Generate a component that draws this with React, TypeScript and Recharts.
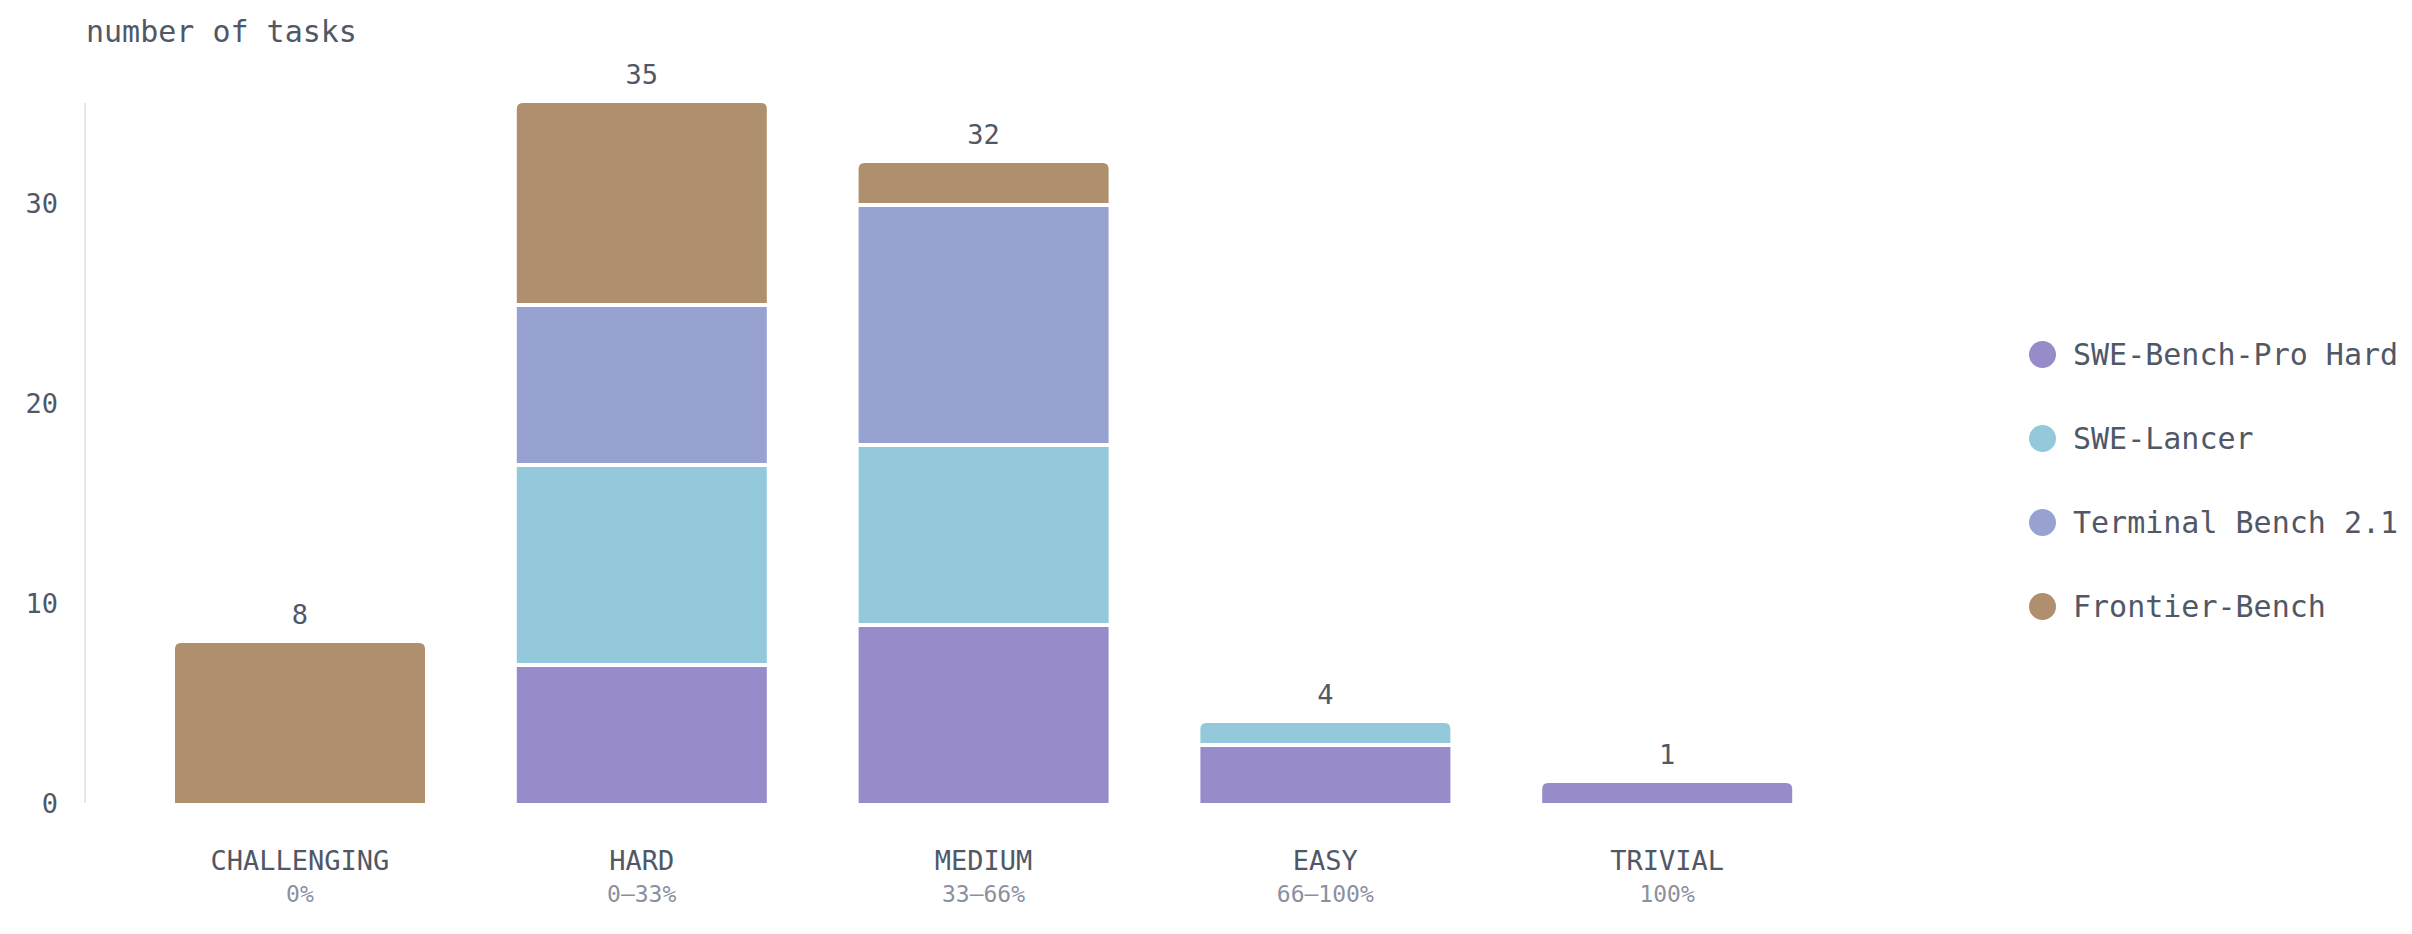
import React from 'react'
import { BarChart, Bar, XAxis, YAxis, LabelList } from 'recharts'

const categories = ['CHALLENGING', 'HARD', 'MEDIUM', 'EASY', 'TRIVIAL']
const passRanges = ['0%', '0–33%', '33–66%', '66–100%', '100%']

const sweBenchProHard = [0, 7, 9, 3, 1]
const sweLancer = [0, 10, 9, 1, 0]
const terminalBench = [0, 8, 12, 0, 0]
const frontierBench = [8, 10, 2, 0, 0]

const yTicks = [0, 10, 20, 30]

const SERIES = [
  { key: 'pro', name: 'SWE-Bench-Pro Hard', color: '#988bca', values: sweBenchProHard },
  { key: 'lancer', name: 'SWE-Lancer', color: '#93c9da', values: sweLancer },
  { key: 'terminal', name: 'Terminal Bench 2.1', color: '#97a2d1', values: terminalBench },
  { key: 'frontier', name: 'Frontier-Bench', color: '#af8f6d', values: frontierBench }
]

const data = categories.map((name, i) => {
  const row: Record<string, any> = { name, range: passRanges[i] }
  let total = 0
  SERIES.forEach((s) => {
    row[s.key] = s.values[i]
    total += s.values[i]
  })
  row.total = total
  return row
})

const FONT = '"DejaVu Sans Mono", "Liberation Mono", monospace'
const TEXT = '#505868'
const MUTED = '#8b90a0'
const GAP = 4
const RADIUS = 6

// the highest non-empty segment of a stack gets the rounded top
function topKey(row: Record<string, any>): string {
  let key = SERIES[0].key
  SERIES.forEach((s) => {
    if (row[s.key] > 0) key = s.key
  })
  return key
}

function segmentShape(props: any, key: string) {
  const { x, y, width, height, fill, payload } = props
  if (!height || height <= 0) return <g />
  if (topKey(payload) === key) {
    const r = Math.min(RADIUS, height)
    const d = `M${x},${y + height} L${x},${y + r} Q${x},${y} ${x + r},${y} L${x + width - r},${y} Q${x + width},${y} ${x + width},${y + r} L${x + width},${y + height} Z`
    return <path d={d} fill={fill} />
  }
  return <rect x={x} y={y + GAP} width={width} height={Math.max(0, height - GAP)} fill={fill} />
}

function CategoryTick({ x, y, payload, index }: any) {
  return (
    <g>
      <text x={x} y={y + 67} textAnchor="middle" fill={TEXT} fontSize={27} fontFamily={FONT}>
        {payload.value}
      </text>
      <text x={x} y={y + 99} textAnchor="middle" fill={MUTED} fontSize={23} fontFamily={FONT}>
        {passRanges[index]}
      </text>
    </g>
  )
}

export default function App(): React.ReactElement {
  return (
    <div style={{ position: 'absolute', left: 0, top: 0, width: 2412, height: 934, background: '#fff' }}>
      <div
        style={{
          position: 'absolute',
          left: 86,
          top: 14,
          fontFamily: FONT,
          fontSize: 30,
          color: TEXT,
          lineHeight: '36px'
        }}
      >
        number of tasks
      </div>
      <BarChart
        width={2412}
        height={934}
        data={data}
        margin={{ top: 103, right: 574, bottom: 0, left: 0 }}
      >
        <XAxis
          dataKey="name"
          height={131}
          axisLine={false}
          tickLine={false}
          tickSize={0}
          tickMargin={0}
          padding={{ left: 44, right: 0 }}
          tick={<CategoryTick />}
          interval={0}
        />
        <YAxis
          width={85}
          domain={[0, 35]}
          ticks={yTicks}
          tickLine={false}
          tickSize={0}
          tickMargin={27}
          axisLine={{ stroke: '#e6e7ec', strokeWidth: 2 }}
          tick={{ fill: TEXT, fontSize: 27, fontFamily: FONT }}
        />
        {SERIES.map((s, si) => (
          <Bar
            key={s.key}
            dataKey={s.key}
            name={s.name}
            stackId="tasks"
            fill={s.color}
            barSize={250}
            isAnimationActive={false}
            shape={(p: any) => segmentShape(p, s.key)}
          >
            {si === SERIES.length - 1 && (
              <LabelList
                dataKey="total"
                content={(p: any) => (
                  <text
                    x={p.x + p.width / 2}
                    y={p.y - 19}
                    textAnchor="middle"
                    fill={TEXT}
                    fontSize={27}
                    fontFamily={FONT}
                  >
                    {data[p.index].total}
                  </text>
                )}
              />
            )}
          </Bar>
        ))}
      </BarChart>
      <div style={{ position: 'absolute', left: 2029, top: 312, fontFamily: FONT }}>
        {SERIES.map((s) => (
          <div key={s.key} style={{ display: 'flex', alignItems: 'center', height: 84 }}>
            <span
              style={{
                width: 27,
                height: 27,
                borderRadius: '50%',
                background: s.color,
                display: 'inline-block',
                marginRight: 17
              }}
            />
            <span style={{ fontSize: 30, color: TEXT, whiteSpace: 'nowrap' }}>{s.name}</span>
          </div>
        ))}
      </div>
    </div>
  )
}
